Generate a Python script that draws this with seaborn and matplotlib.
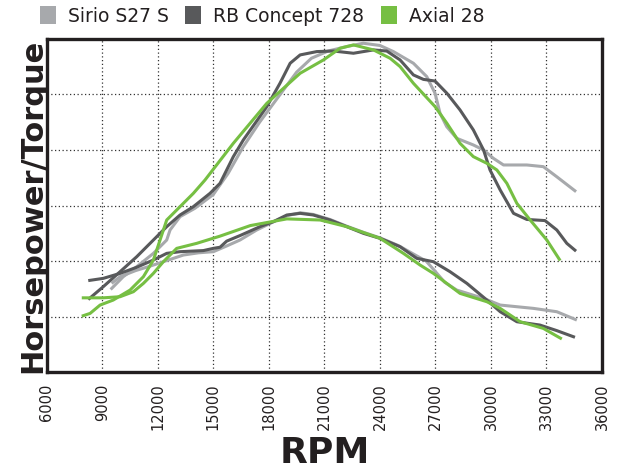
import numpy as np
import pandas as pd
import seaborn as sns
import matplotlib.pyplot as plt
from matplotlib.patches import Patch

# Sirio S27 S
sirio_hp_rpm = [9450, 10130, 10860, 11760, 12480, 12660, 13200, 14000, 15000, 15800, 16600, 17500,
                18500, 19500, 20300, 21200, 22200, 23100, 24000, 24730, 25810, 26530, 26980, 27250,
                27610, 28150, 29050, 29600, 30130, 30680, 31940, 32830, 33550, 34600]
sirio_hp = [1.49, 1.72, 1.90, 2.14, 2.38, 2.56, 2.80, 2.95, 3.20, 3.58, 4.05, 4.50,
            4.95, 5.40, 5.65, 5.78, 5.86, 5.92, 5.88, 5.77, 5.56, 5.32, 5.02, 4.66,
            4.42, 4.21, 4.09, 4.00, 3.85, 3.73, 3.73, 3.70, 3.52, 3.25]
sirio_tq_rpm = [9500, 9960, 10800, 11580, 12840, 13380, 14200, 15000, 15700, 16440, 17340, 18200,
                19000, 19700, 20400, 21300, 22200, 23100, 24000, 25000, 25800, 26500, 26900, 27500,
                28150, 29600, 30500, 32300, 33560, 34640]
sirio_tq = [1.60, 1.72, 1.83, 1.91, 2.05, 2.11, 2.15, 2.17, 2.27, 2.38, 2.56, 2.70,
            2.82, 2.87, 2.84, 2.75, 2.63, 2.52, 2.42, 2.28, 2.13, 2.00, 1.85, 1.62,
            1.48, 1.33, 1.21, 1.15, 1.09, 0.94]

# RB Concept 728
rb_hp_rpm = [8240, 9050, 9960, 10860, 11760, 12480, 13200, 13920, 14820, 15360, 16080, 16620,
             17890, 18600, 19150, 19690, 20590, 21490, 22570, 23650, 24370, 25090, 25810, 26350,
             26980, 27620, 28330, 29050, 29600, 29950, 30500, 31220, 31940, 32920, 33560, 34100, 34600]
rb_hp = [1.31, 1.54, 1.81, 2.08, 2.38, 2.62, 2.83, 2.98, 3.22, 3.40, 3.88, 4.18,
         4.78, 5.20, 5.56, 5.71, 5.77, 5.78, 5.74, 5.80, 5.78, 5.62, 5.35, 5.27,
         5.24, 5.02, 4.72, 4.36, 4.00, 3.64, 3.28, 2.86, 2.75, 2.73, 2.56, 2.32, 2.18]
rb_tq_rpm = [8240, 9050, 9960, 10860, 11760, 12480, 13200, 14460, 15000, 15360, 15720, 16440,
             17520, 18240, 18970, 19690, 20400, 21310, 22210, 23110, 24010, 25090, 25990, 26890,
             27790, 28700, 29780, 30500, 31400, 32650, 33560, 34540]
rb_tq = [1.65, 1.69, 1.78, 1.89, 2.02, 2.14, 2.17, 2.19, 2.23, 2.25, 2.36, 2.46,
         2.62, 2.71, 2.83, 2.86, 2.83, 2.74, 2.62, 2.50, 2.41, 2.26, 2.05, 1.99,
         1.81, 1.60, 1.30, 1.09, 0.91, 0.85, 0.75, 0.63]

# Axial 28
axial_hp_rpm = [7890, 8340, 8880, 9590, 10500, 11220, 11760, 12120, 12480, 13200, 13920, 14550,
                16080, 17890, 19690, 20950, 21850, 22570, 23650, 24550, 25090, 25810, 26980, 27620,
                28330, 29050, 29780, 30320, 30860, 31400, 32120, 33020, 33740]
axial_hp = [1.01, 1.06, 1.21, 1.30, 1.48, 1.72, 2.02, 2.38, 2.74, 2.98, 3.22, 3.46,
            4.12, 4.84, 5.38, 5.62, 5.83, 5.89, 5.80, 5.65, 5.50, 5.20, 4.78, 4.48,
            4.12, 3.88, 3.76, 3.64, 3.40, 3.04, 2.74, 2.38, 2.01]
axial_tq_rpm = [7890, 9050, 9960, 10680, 11220, 11760, 12300, 13020, 14100, 15360, 17000, 18970,
                20770, 22210, 24010, 25270, 26170, 26890, 28330, 29780, 30500, 31580, 32830, 33830]
axial_tq = [1.34, 1.34, 1.36, 1.45, 1.60, 1.78, 1.99, 2.23, 2.32, 2.45, 2.64, 2.76,
            2.74, 2.62, 2.41, 2.14, 1.93, 1.78, 1.42, 1.27, 1.15, 0.91, 0.79, 0.60]

models = ["Sirio S27 S", "RB Concept 728", "Axial 28"]
colors = ["#a7a9ac", "#58595b", "#76bf43"]

# long table for seaborn
frames = []
for name, (r1, v1, r2, v2) in zip(models, [
        (sirio_hp_rpm, sirio_hp, sirio_tq_rpm, sirio_tq),
        (rb_hp_rpm, rb_hp, rb_tq_rpm, rb_tq),
        (axial_hp_rpm, axial_hp, axial_tq_rpm, axial_tq)]):
    frames.append(pd.DataFrame({"rpm": r1, "val": v1, "model": name, "curve": name + " hp"}))
    frames.append(pd.DataFrame({"rpm": r2, "val": v2, "model": name, "curve": name + " tq"}))
data = pd.concat(frames, ignore_index=True)

sns.set_style("white")
plt.rcParams['font.family'] = ['DejaVu Sans']

fig = plt.figure(figsize=(6.19, 4.72), dpi=100)
ax = fig.add_axes([0.0756, 0.2112, 0.8969, 0.7066])

sns.lineplot(data=data, x="rpm", y="val", hue="model", units="curve", estimator=None,
             sort=False, hue_order=models, palette=colors, lw=2.2, legend=False, ax=ax)
for ln in ax.get_lines():
    ln.set_solid_joinstyle("round")
    ln.set_solid_capstyle("butt")

ax.set_xlim(6000, 36000)
ax.set_ylim(0, 6)
ax.set_xticks(np.arange(6000, 36001, 3000))
ax.set_xticklabels([str(t) for t in range(6000, 36001, 3000)], rotation=90,
                   fontsize=10.5, color="#231f20")
ax.set_yticks([1, 2, 3, 4, 5])
ax.set_yticklabels([])
ax.tick_params(length=0)
ax.tick_params(axis="x", pad=8)
ax.tick_params(axis="y", pad=0)
ax.grid(True, linestyle=(0, (1, 2)), color="#333333", lw=0.9)
for s in ax.spines.values():
    s.set_linewidth(2.4)
    s.set_color("#231f20")

ax.set_xlabel("RPM", fontsize=26, fontweight="heavy", color="#231f20", labelpad=4)
ax.set_ylabel("Horsepower/Torque", fontsize=22, fontweight="heavy", color="#231f20", labelpad=0)

handles = [Patch(facecolor=c, edgecolor="none") for c in colors]
fig.legend(handles, models, loc="upper left", bbox_to_anchor=(0.037, 1.022), ncol=3,
           frameon=False, fontsize=13.5, handlelength=0.85, handleheight=1.05,
           handletextpad=0.64, columnspacing=0.9, labelcolor="#231f20")

fig.savefig("out.png", dpi=100)
